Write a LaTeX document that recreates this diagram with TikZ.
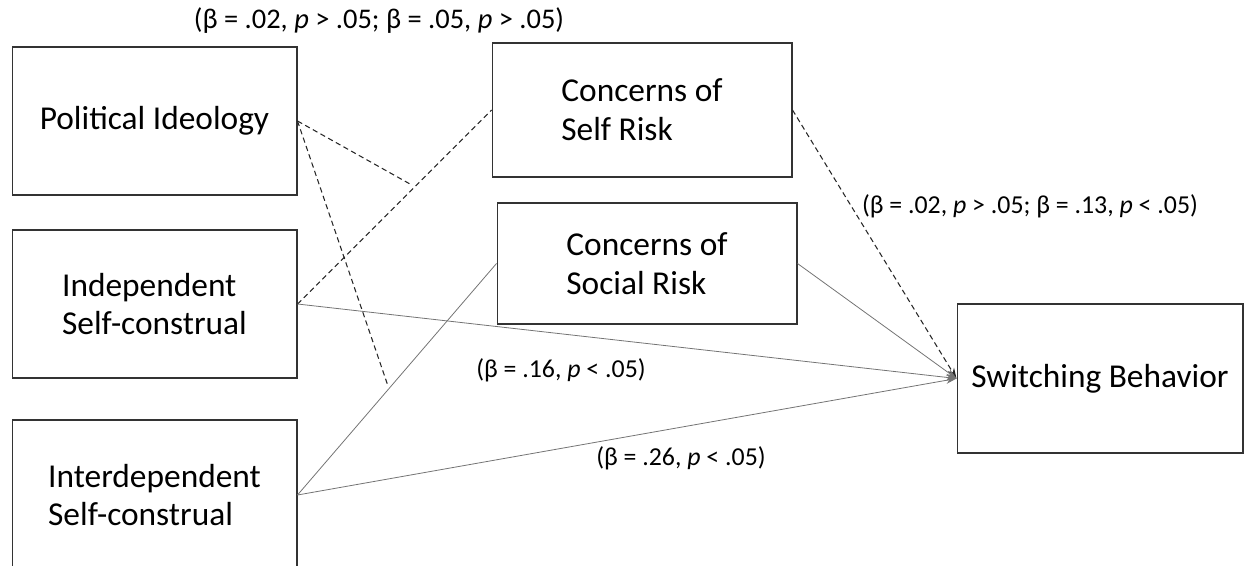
\documentclass[tikz,border=0pt]{standalone}
\usepackage{fontspec}
\setmainfont{Carlito}
\usetikzlibrary{arrows.meta}

\begin{document}
\begin{tikzpicture}[x=0.02cm,y=-0.02cm,
	box/.style={draw=black!80,line width=0.6pt,inner sep=0pt,align=left,font=\fontsize{19}{22}\selectfont},
	coef/.style={font=\fontsize{14.7}{16}\selectfont},
	nsline/.style={line width=0.6pt,black!85,dash pattern=on 3pt off 2pt},
	sigline/.style={line width=0.45pt,black!55},
	tip/.style={-{Stealth[length=6pt,width=4pt]}}]
	\useasboundingbox (0,0) rectangle (1248,565);
	\node[box,minimum width=5.7cm,minimum height=2.96cm] (pol) at (154.5,121) {Political Ideology};
	\node[box,minimum width=5.7cm,minimum height=2.96cm] (ind) at (154.5,304) {Independent\\Self-construal};
	\node[box,minimum width=5.7cm,minimum height=3cm] (inter) at (154.5,495) {Interdependent\\Self-construal};
	\node[box,minimum width=6cm,minimum height=2.68cm] (self) at (642,110) {Concerns of\\Self Risk};
	\node[box,minimum width=6cm,minimum height=2.42cm] (social) at (647,263.5) {Concerns of\\Social Risk};
	\node[box,minimum width=5.72cm,minimum height=2.98cm] (switch) at (1100,378.5) {Switching Behavior};
	\coordinate (polA) at (410,184);
	\coordinate (polB) at (388,386);
	\node[coef,font=\fontsize{16.2}{18}\selectfont] (betaPol) at (379,21) {(β = .02, \textit{p} > .05; β = .05, \textit{p} > .05)};
	\node[coef] (betaSelf) at (1030,206) {(β = .02, \textit{p} > .05; β = .13, \textit{p} < .05)};
	\node[coef] (betaInd) at (561,370) {(β = .16, \textit{p} < .05)};
	\node[coef] (betaInter) at (681,458) {(β = .26, \textit{p} < .05)};
	\draw[nsline] (pol.east) -- (polA);
	\draw[nsline] (pol.east) -- (polB);
	\draw[nsline] (ind.east) -- (self.west);
	\draw[sigline] (inter.east) -- (social.west);
	\draw[nsline,tip] (self.east) -- (switch.west);
	\draw[sigline,tip] (social.east) -- (switch.west);
	\draw[sigline,tip] (ind.east) -- (switch.west);
	\draw[sigline,tip] (inter.east) -- (switch.west);
\end{tikzpicture}
\end{document}
